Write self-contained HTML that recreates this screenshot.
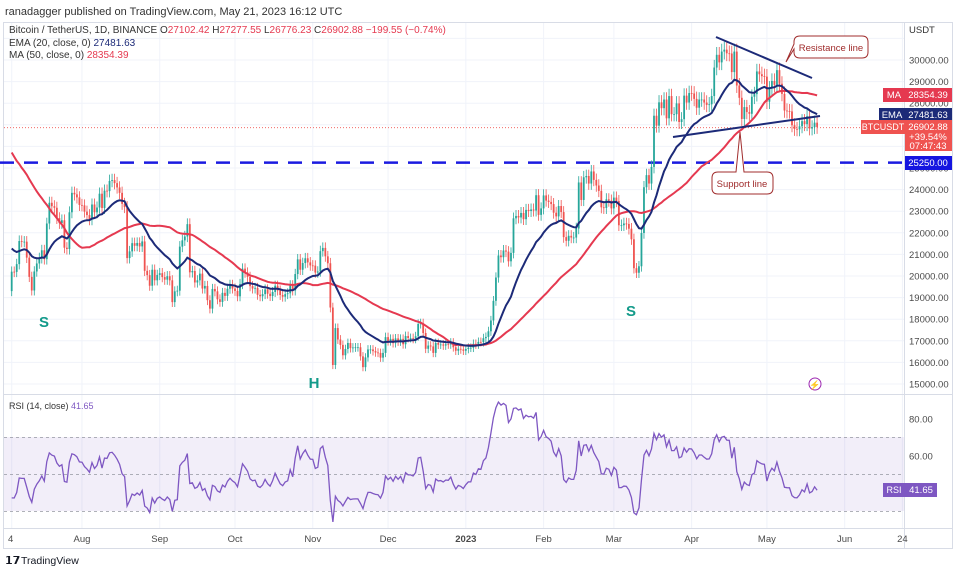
<!DOCTYPE html>
<html><head><meta charset="utf-8"><style>
body{margin:0;background:#fff;font-family:"Liberation Sans",sans-serif}
svg{display:block}
</style></head><body>
<svg id="c" width="956" height="569" viewBox="0 0 956 569" xmlns="http://www.w3.org/2000/svg" font-family="Liberation Sans, sans-serif">
<rect width="956" height="569" fill="#fff"/>
<text x="5" y="15" font-size="11" fill="#333">ranadagger published on TradingView.com, May 21, 2023 16:12 UTC</text>
<rect x="3.5" y="22.5" width="949" height="526" fill="none" stroke="#d8dce6"/>
<g id="grid"></g>
<rect x="4" y="437" width="900" height="74" fill="#7e57c2" fill-opacity="0.1"/>
<g id="rsiLines"></g>
<line x1="4" y1="127.7" x2="904" y2="127.7" stroke="#ef5350" stroke-width="0.8" stroke-dasharray="1,2"/>
<line x1="0" y1="162.6" x2="904" y2="162.6" stroke="#1a1ae0" stroke-width="2.5" stroke-dasharray="14,10"/>
<g id="candles"></g>
<path id="ma" fill="none" stroke="#e53950" stroke-width="2"/>
<path id="ema" fill="none" stroke="#1c2a78" stroke-width="2"/>
<path id="rsi" fill="none" stroke="#7e57c2" stroke-width="1.3"/>
<line x1="716" y1="37" x2="812" y2="78" stroke="#1c2a78" stroke-width="2"/>
<line x1="673" y1="137" x2="820" y2="116" stroke="#1c2a78" stroke-width="2"/>
<g>
<path d="M800,36 H862 Q868,36 868,42 V52 Q868,58 862,58 H800 Q794,58 794,52 V49 L786,62 L794,44 V42 Q794,36 800,36Z" fill="#fff" stroke="#a02c2c"/>
<text x="831" y="51" font-size="9.5" fill="#a02c2c" text-anchor="middle">Resistance line</text></g>
<g>
<path d="M718,172 H736 L740,132 L744,172 H767 Q773,172 773,178 V188 Q773,194 767,194 H718 Q712,194 712,188 V178 Q712,172 718,172Z" fill="#fff" stroke="#a02c2c"/>
<text x="742" y="187" font-size="9.5" fill="#a02c2c" text-anchor="middle">Support line</text></g>
<text x="44" y="327" font-size="15" font-weight="bold" fill="#139a8a" text-anchor="middle">S</text>
<text x="314" y="388" font-size="15" font-weight="bold" fill="#139a8a" text-anchor="middle">H</text>
<text x="631" y="316" font-size="15" font-weight="bold" fill="#139a8a" text-anchor="middle">S</text>
<g><circle cx="815" cy="384" r="6" fill="#fff" stroke="#9c27b0"/><text x="815" y="388" font-size="9" fill="#9c27b0" text-anchor="middle">⚡</text></g>
<line x1="4" y1="394.5" x2="952" y2="394.5" stroke="#d8dce6"/>
<line x1="4" y1="528.5" x2="952" y2="528.5" stroke="#d8dce6"/>
<line x1="904.5" y1="22" x2="904.5" y2="548" stroke="#d8dce6"/>
<g id="yticks" font-size="9.5" fill="#4a4a4a"></g>
<g id="xticks" font-size="9.5" fill="#4a4a4a"></g>
<text x="909" y="33" font-size="9.5" fill="#333">USDT</text>
<text x="9" y="33" font-size="10" fill="#333">Bitcoin / TetherUS, 1D, BINANCE <tspan fill="#333">O</tspan><tspan fill="#e53950">27102.42</tspan> H<tspan fill="#e53950">27277.55</tspan> L<tspan fill="#e53950">26776.23</tspan> C<tspan fill="#e53950">26902.88 −199.55 (−0.74%)</tspan></text>
<text x="9" y="46" font-size="10" fill="#333">EMA (20, close, 0) <tspan fill="#1c2a78">27481.63</tspan></text>
<text x="9" y="58" font-size="10" fill="#333">MA (50, close, 0) <tspan fill="#e53950">28354.39</tspan></text>
<text x="9" y="409" font-size="9" fill="#333">RSI (14, close) <tspan fill="#7e57c2">41.65</tspan></text>
<g><rect x="883" y="88" width="22" height="14" fill="#e53950"/><text x="894" y="98" font-size="9.5" fill="#fff" text-anchor="middle">MA</text><rect x="905" y="88" width="47" height="14" fill="#e53950"/><text x="928" y="98" font-size="9.5" fill="#fff" text-anchor="middle">28354.39</text></g>
<g><rect x="879" y="108" width="26" height="14" fill="#1c2a78"/><text x="892" y="118" font-size="9.5" fill="#fff" text-anchor="middle">EMA</text><rect x="905" y="108" width="47" height="14" fill="#1c2a78"/><text x="928" y="118" font-size="9.5" fill="#fff" text-anchor="middle">27481.63</text></g>
<g><rect x="861" y="120" width="44" height="14" fill="#ef5350"/><text x="883" y="130" font-size="9" fill="#fff" text-anchor="middle">BTCUSDT</text><rect x="905" y="120" width="47" height="31" fill="#ef5350"/><text x="928" y="130" font-size="9.5" fill="#fff" text-anchor="middle">26902.88</text><text x="928" y="140" font-size="9.5" fill="#fff" text-anchor="middle">+39.54%</text><text x="928" y="149" font-size="9.5" fill="#fff" text-anchor="middle">07:47:43</text></g>
<g><rect x="905" y="156" width="47" height="14" fill="#1515e0"/><text x="928" y="166" font-size="9.5" fill="#fff" text-anchor="middle">25250.00</text></g>
<g><rect x="883" y="483" width="22" height="14" fill="#7e57c2"/><text x="894" y="493" font-size="9" fill="#fff" text-anchor="middle">RSI</text><rect x="905" y="483" width="32" height="14" fill="#7e57c2"/><text x="921" y="493" font-size="9.5" fill="#fff" text-anchor="middle">41.65</text></g>
<g><text x="5" y="564" font-size="11" font-weight="bold" fill="#131722">𝟭𝟳</text><text x="21" y="564" font-size="10.5" fill="#131722">TradingView</text></g>
</svg>
<script>
const warmup=[30080,31300,29860,30420,28700,30300,29200,29430,30290,29100,29650,29540,29200,28630,29030,29450,31730,31800,29800,30450,29700,29860,29910,31370,31120,30200,30110,29080,28420,26570,22490,22140,22580,20380,20450,19020,20550,20720,20710,19990,21090,21230,21500,21030,20730,20280,20100,19940,19290,19250,19300];
const closes=[20200,20190,20550,21620,21590,21590,20850,19960,19330,20210,20580,20830,21190,20780,22430,23390,23230,23160,22680,22450,22580,21310,21250,22950,23850,23780,23640,23290,
23270,22980,22820,22620,23310,22950,23170,23810,23150,23950,23930,24400,24440,24300,24100,23850,23340,23190,20830,21140,21520,21400,21530,21370,21600,20240,20040,19550,20290,19800,20050,
20130,19950,19830,19990,19800,18790,19290,19320,21360,21650,21830,22400,20170,20230,19700,19800,20110,19420,19540,18880,18490,19400,19290,18920,18800,19220,19080,19410,19590,19420,
19310,19060,19630,20340,20160,19960,19530,19420,19450,19130,19060,19160,19380,19180,19070,19260,19550,19330,19120,19040,19160,19200,19570,19330,20090,20770,20290,20600,20820,20630,20490,
20480,20160,20210,21150,21300,20910,20590,18540,15880,17590,17060,16810,16330,16620,16900,16660,16690,16700,16700,16280,15780,16230,16600,16600,16520,16460,16440,16220,16440,17170,
16980,17090,16890,17110,16970,17090,16840,17220,17130,17130,17090,17210,17780,17810,17360,16630,16780,16740,16440,16900,16820,16830,16780,16840,16830,16920,16700,16540,16630,16600,16540,
16620,16680,16680,16860,16830,16950,16940,17120,17180,17440,17940,18850,19930,20950,20870,21180,21130,20680,21070,22670,22780,22710,22920,22630,23060,23010,23080,23030,23740,22830,23130,
23730,23490,23430,23330,22930,22760,23240,22960,21800,21630,21860,21780,21780,22200,24330,23520,24570,24630,24280,24840,24450,24190,23940,23180,23150,23550,23490,23130,
23630,23470,22350,22350,22430,22410,22190,21700,20360,20150,20450,21990,24110,24670,24280,25050,27420,26960,28040,27770,28170,27300,28330,27490,27490,27990,27130,27260,28350,28030,28470,
28450,28200,27790,28170,28170,28030,27920,27950,28330,29650,30240,29890,30390,30480,30310,30300,29440,30390,28820,28250,27270,27820,27590,27510,28300,28420,29470,29340,29250,29230,
28070,28680,29030,28850,29530,28900,28430,27660,27630,27620,26980,26810,26790,26930,27170,27030,27400,26830,26890,27100,26900];
const priceTicks=[31000,30000,29000,28000,27000,26000,25000,24000,23000,22000,21000,20000,19000,18000,17000,16000,15000];
const timeLabels=["4","Aug","Sep","Oct","Nov","Dec","2023","Feb","Mar","Apr","May","Jun","24"];
const timeIdx=[0,28,59,89,120,150,181,212,240,271,301,332,355];
const rsiLevels=[70,50,30];
const rsiTicks=[80,60];

const NS="http://www.w3.org/2000/svg";
const X=i=>11.7+i*2.509;
const Y=p=>60+(30000-p)*0.0216;
const R=r=>419+(80-r)*1.85;
function mk(t,a,parent){const e=document.createElementNS(NS,t);for(const k in a)e.setAttribute(k,a[k]);parent.appendChild(e);return e;}
const grid=document.getElementById('grid'),yt=document.getElementById('yticks'),xt=document.getElementById('xticks');
priceTicks.forEach(p=>{
  const l=mk('line',{x1:4,x2:904,y1:Y(p),y2:Y(p),stroke:'#f0f3fa'},grid);
  
  
  if(Y(p)>40){const t=mk('text',{x:909,y:Y(p)+3.5},yt);t.textContent=p.toFixed(2);
  
  }
});
rsiTicks.forEach(r=>{const t=mk('text',{x:909,y:R(r)+3.5},yt);t.textContent=r.toFixed(2);
  
  });
timeLabels.forEach((s,k)=>{
  const x=X(timeIdx[k]);
  const l=mk('line',{x1:x,x2:x,y1:23,y2:528,stroke:'#f0f3fa'},grid);
  
  
  const t=mk('text',{x:k==0?8:x,y:542,'text-anchor':k==0?'start':'middle','font-weight':s=='2023'?'bold':'normal'},xt);t.textContent=s;
  
  
});
const rl=document.getElementById('rsiLines');
rsiLevels.forEach(r=>{const l=mk('line',{x1:4,x2:904,y1:R(r),y2:R(r),stroke:'#9598a1','stroke-dasharray':'3,3','stroke-width':0.8},rl);
  
  });
const cg=document.getElementById('candles');
const all=warmup.concat(closes),W=warmup.length;
closes.forEach((c,i)=>{
  const o=all[W+i-1],up=c>=o,col=up?'#26a69a':'#ef5350';
  const hi=Math.max(o,c)*1.012,lo=Math.min(o,c)*0.988,x=X(i);
  const w=mk('line',{x1:x,x2:x,y1:Y(hi),y2:Y(lo),stroke:col,'stroke-width':0.8},cg);
  
  
  const b=mk('rect',{x:x-0.9,width:1.8,y:Y(Math.max(o,c)),height:Math.max(0.8,Math.abs(Y(o)-Y(c))),fill:col},cg);
  
  
});
let d='';closes.forEach((c,i)=>{let s=0;for(let k=W+i-49;k<=W+i;k++)s+=all[k];d+=(i?'L':'M')+X(i).toFixed(1)+','+Y(s/50).toFixed(1);});
document.getElementById('ma').setAttribute('d',d);
let e=all.slice(0,20).reduce((a,b)=>a+b)/20;for(let k=20;k<W;k++)e=e+(all[k]-e)*2/21;
d='';closes.forEach((c,i)=>{e=e+(c-e)*2/21;d+=(i?'L':'M')+X(i).toFixed(1)+','+Y(e).toFixed(1);});
document.getElementById('ema').setAttribute('d',d);
let ag=0,al=0;for(let k=1;k<=14;k++){const ch=all[k]-all[k-1];ag+=Math.max(ch,0);al+=Math.max(-ch,0);}ag/=14;al/=14;
for(let k=15;k<W;k++){const ch=all[k]-all[k-1];ag=(ag*13+Math.max(ch,0))/14;al=(al*13+Math.max(-ch,0))/14;}
d='';closes.forEach((c,i)=>{const ch=c-all[W+i-1];ag=(ag*13+Math.max(ch,0))/14;al=(al*13+Math.max(-ch,0))/14;const r=100-100/(1+ag/(al||1e-9));d+=(i?'L':'M')+X(i).toFixed(1)+','+R(r).toFixed(1);});
document.getElementById('rsi').setAttribute('d',d);
</script>
</body></html>
